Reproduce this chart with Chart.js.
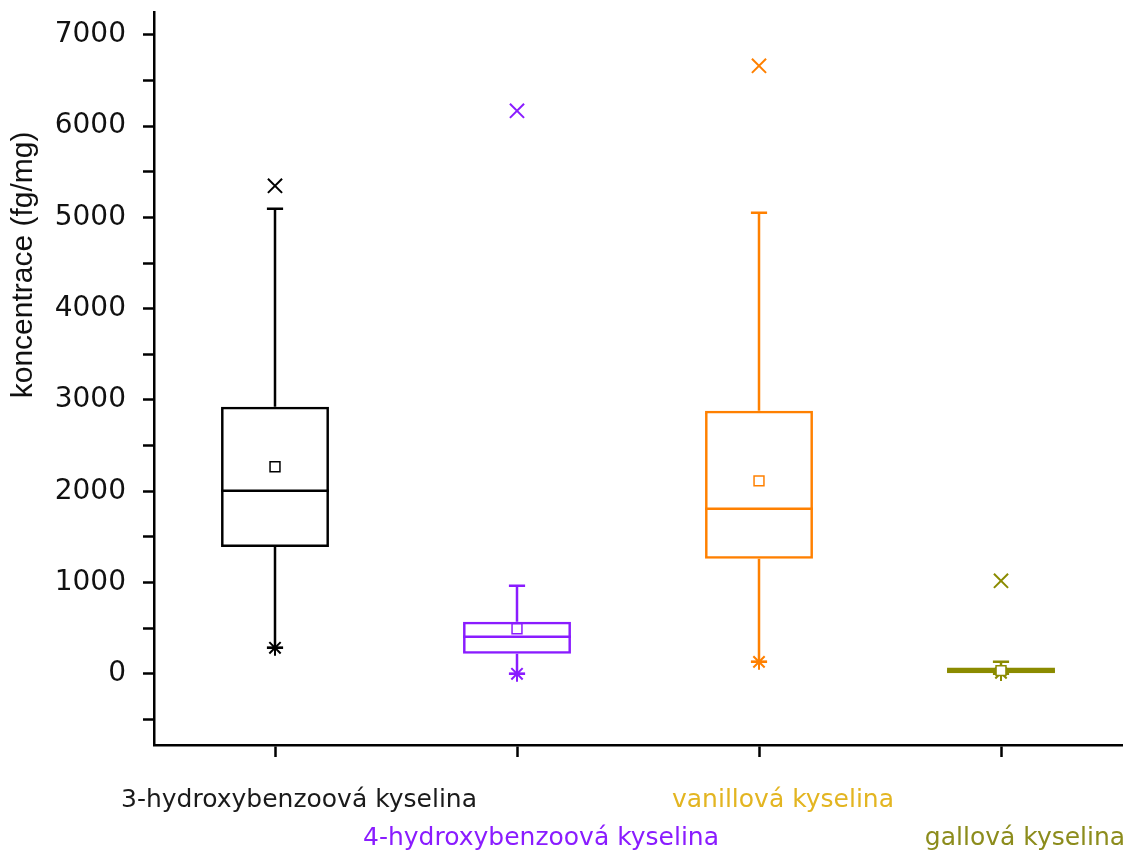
<!DOCTYPE html>
<html>
<head>
<meta charset="utf-8">
<script src="https://cdn.jsdelivr.net/npm/chart.js@4.4.0/dist/chart.umd.min.js"></script>
<style>
  html, body { margin: 0; padding: 0; background: #fff; }
  #wrap { width: 1128px; height: 850px; }
</style>
</head>
<body>
<div id="wrap"><canvas id="boxChart"></canvas></div>
<script>
// box statistics per acid (fg/mg)
const categories = ['3-hydroxybenzoová kyselina', '4-hydroxybenzoová kyselina', 'vanillová kyselina', 'gallová kyselina'];
const q1 = [1390, 220, 1260, 0];
const median = [2005, 405, 1808, 30];
const q3 = [2925, 570, 2881, 70];
const whiskerLow = [285, 0, 131, 0];
const whiskerHigh = [5094, 964, 5050, 131];
const mean = [2268, 493, 2114, 35];
const maxMark = [5346, 6168, 6661, 1019];
const minMark = [285, 0, 131, 10];
const yTickValues = [-500, 0, 500, 1000, 1500, 2000, 2500, 3000, 3500, 4000, 4500, 5000, 5500, 6000, 6500, 7000];

const boxColors = ['#000000', '#8a1cff', '#ff8000', '#8b8b00'];
const labelColors = ['#1a1a1a', '#8a1cff', '#e3b521', '#8c8c1c'];

// medians and whiskers, placed with the chart's own scales
const boxExtras = {
    id: 'boxExtras',
    beforeDatasetsDraw(chart) {
        const ctx = chart.ctx;
        const y = chart.scales.y;
        const bars = chart.getDatasetMeta(0).data;
        ctx.save();
        ctx.lineWidth = 2.5;
        bars.forEach(function(bar, i) {
            const half = bar.width / 2;
            const cap = bar.width * 0.075;
            const yMed = y.getPixelForValue(median[i]);
            const yHi = y.getPixelForValue(whiskerHigh[i]);
            const yLo = y.getPixelForValue(whiskerLow[i]);
            ctx.strokeStyle = boxColors[i];
            ctx.beginPath();
            ctx.moveTo(bar.x - half, yMed);
            ctx.lineTo(bar.x + half, yMed);
            ctx.moveTo(bar.x, y.getPixelForValue(q3[i]));
            ctx.lineTo(bar.x, yHi);
            ctx.moveTo(bar.x - cap, yHi);
            ctx.lineTo(bar.x + cap, yHi);
            ctx.moveTo(bar.x, y.getPixelForValue(q1[i]));
            ctx.lineTo(bar.x, yLo);
            ctx.moveTo(bar.x - cap, yLo);
            ctx.lineTo(bar.x + cap, yLo);
            ctx.stroke();
        });
        ctx.restore();
    }
};

// y axis title sits above the middle of the axis in the original
const yTitle = {
    id: 'yTitle',
    afterDraw(chart) {
        const ctx = chart.ctx;
        const area = chart.chartArea;
        ctx.save();
        ctx.translate(24, area.top + (area.bottom - area.top) * 0.345);
        ctx.rotate(-Math.PI / 2);
        ctx.font = '30px "Liberation Sans"';
        ctx.fillStyle = '#111';
        ctx.textAlign = 'center';
        ctx.textBaseline = 'middle';
        ctx.fillText('koncentrace (fg/mg)', 0, 0);
        ctx.restore();
    }
};

const canvas = document.getElementById('boxChart');
const chart = new Chart(canvas.getContext('2d'), {
    type: 'bar',
    data: {
        labels: categories.map(function(c, i) { return i % 2 === 0 ? [c, ''] : ['', c]; }),
        datasets: [{
            label: 'box',
            data: q1.map(function(v, i) { return [v, q3[i]]; }),
            backgroundColor: 'rgba(0,0,0,0)',
            borderColor: boxColors,
            borderWidth: 2.5,
            borderSkipped: false,
            barPercentage: 0.446,
            categoryPercentage: 1,
            order: 4
        }, {
            type: 'line',
            label: 'mean',
            data: mean,
            showLine: false,
            pointStyle: 'rect',
            pointRadius: 7,
            pointBorderWidth: 1.5,
            pointBorderColor: boxColors,
            pointBackgroundColor: '#fff',
            order: 1
        }, {
            type: 'line',
            label: 'max',
            data: maxMark,
            showLine: false,
            pointStyle: 'crossRot',
            pointRadius: 10,
            pointBorderWidth: 2,
            pointBorderColor: boxColors,
            order: 2
        }, {
            type: 'line',
            label: 'min',
            data: minMark,
            showLine: false,
            pointStyle: 'star',
            pointRadius: 8,
            pointBorderWidth: 2,
            pointBorderColor: boxColors,
            order: 3
        }]
    },
    options: {
        responsive: true,
        maintainAspectRatio: false,
        animation: false,
        layout: { autoPadding: false, padding: { top: 12, right: 6, left: 0, bottom: 0 } },
        plugins: {
            legend: { display: false },
            tooltip: { enabled: false }
        },
        scales: {
            x: {
                offset: true,
                afterFit: function(scale) {
                    scale.height = 105;
                    scale.paddingLeft = 0;
                    scale.paddingRight = 0;
                },
                border: { color: '#000', width: 2.5 },
                grid: {
                    offset: false,
                    drawOnChartArea: false,
                    tickLength: 12,
                    tickColor: '#000',
                    tickWidth: 2.5
                },
                ticks: {
                    font: { family: 'DejaVu Sans', size: 25, lineHeight: '38px' },
                    color: function(ctx) { return labelColors[ctx.index]; },
                    padding: 24,
                    labelOffset: 24,
                    maxRotation: 0,
                    autoSkip: false
                }
            },
            y: {
                min: -780,
                max: 7250,
                afterFit: function(scale) {
                    scale.width = 154;
                    scale.paddingTop = 0;
                    scale.paddingBottom = 0;
                },
                afterBuildTicks: function(scale) {
                    scale.ticks = yTickValues.map(function(v) { return { value: v }; });
                },
                border: { color: '#000', width: 2.5 },
                grid: {
                    drawOnChartArea: false,
                    tickLength: 11,
                    tickColor: '#000',
                    tickWidth: 2.5
                },
                ticks: {
                    font: { family: 'DejaVu Sans', size: 28 },
                    color: '#111',
                    padding: 17,
                    callback: function(v) { return v % 1000 === 0 ? v : ''; }
                }
            }
        }
    },
    plugins: [boxExtras, yTitle]
});
</script>
</body>
</html>
